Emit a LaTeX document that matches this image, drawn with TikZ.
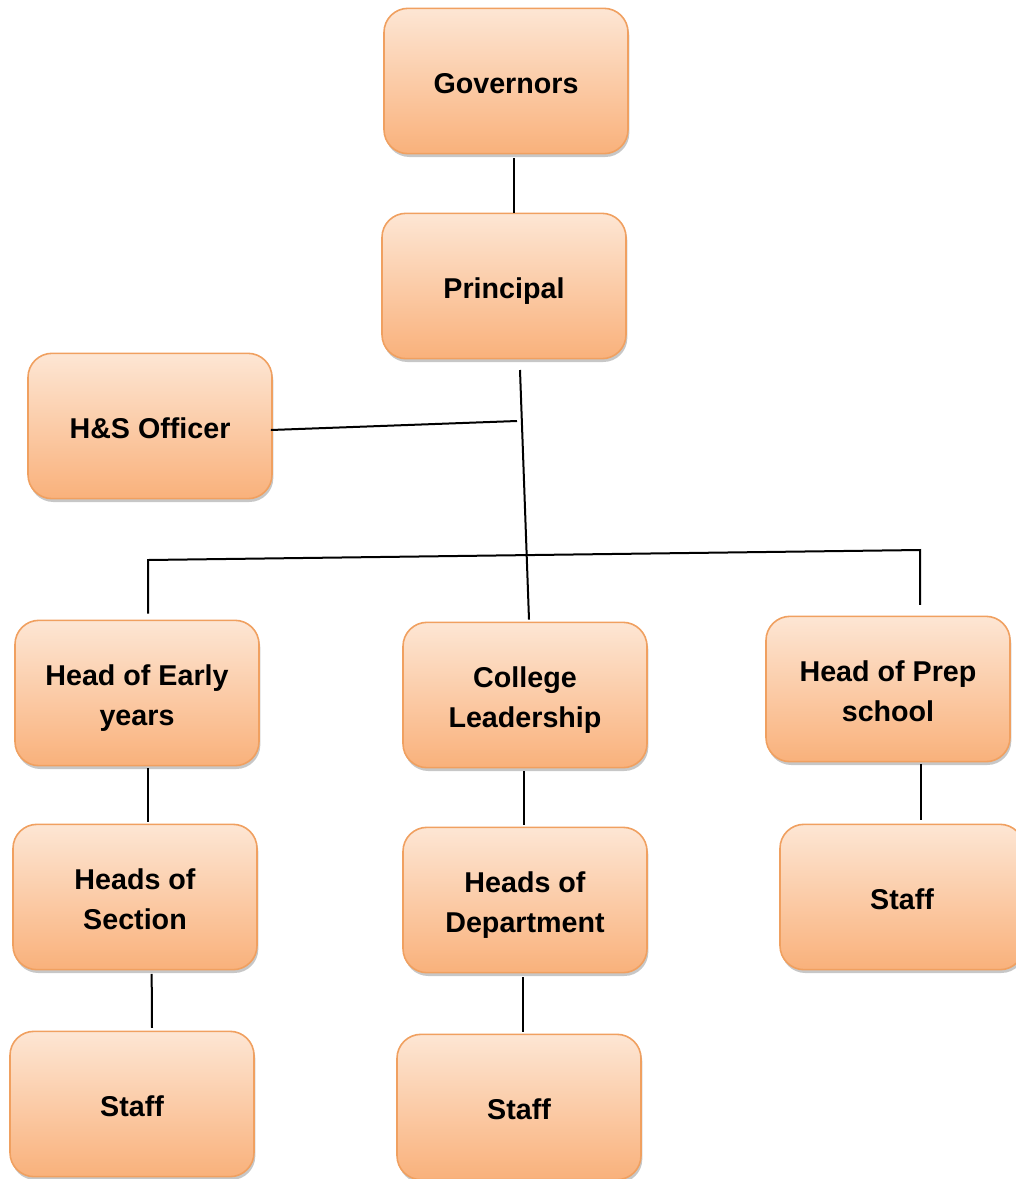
\documentclass[tikz,border=0pt]{standalone}
\usepackage{fontspec}
\setmainfont{Liberation Sans}
\usetikzlibrary{shadows}
\definecolor{boxtop}{HTML}{FDE6D4}
\definecolor{boxbot}{HTML}{F9B17B}
\definecolor{boxline}{HTML}{F0A060}
\newcommand{\boxtext}[1]{\raisebox{-3.5pt}[\height][\depth]{\begin{tabular}{@{}c@{}}#1\end{tabular}}}
\begin{document}
\begin{tikzpicture}[x=0.75pt,y=-0.75pt,
  box/.style={rectangle, rounded corners=18pt, draw=boxline, line width=1.2pt,
    top color=boxtop, bottom color=boxbot, minimum width=183pt, minimum height=109pt,
    inner sep=0pt, font=\bfseries\fontsize{21.5}{30}\selectfont,
    drop shadow={shadow xshift=1pt, shadow yshift=-2.5pt, opacity=0.22, fill=black}},
  conn/.style={draw=black, line width=1.5pt}]
\useasboundingbox (0,0) rectangle (1015,1179);
\node[box] (gov)  at (506,81)   {\boxtext{Governors}};
\node[box] (prin) at (504,286)  {\boxtext{Principal}};
\node[box] (hs)   at (150,426)  {\boxtext{H\&S Officer}};
\node[box] (ey)   at (137,693)  {\boxtext{Head of Early\\years}};
\node[box] (col)  at (525,695)  {\boxtext{College\\Leadership}};
\node[box] (prep) at (888,689)  {\boxtext{Head of Prep\\school}};
\node[box] (sec)  at (135,897)  {\boxtext{Heads of\\Section}};
\node[box] (dep)  at (525,900)  {\boxtext{Heads of\\Department}};
\node[box] (staffr) at (902,897) {\boxtext{Staff}};
\node[box] (staffl) at (132,1104) {\boxtext{Staff}};
\node[box] (staffm) at (519,1107) {\boxtext{Staff}};
\coordinate (ptop) at (520,370);
\coordinate (hsj)  at (517,421);
\coordinate (busL) at (148,560);
\coordinate (busR) at (920,550);
\draw[conn] ([xshift=6pt,yshift=-3pt]gov.south) -- ([xshift=7.5pt]prin.north);
\draw[conn] (ptop) -- ([xshift=3pt,yshift=1.5pt]col.north);
\draw[conn] ([xshift=-1.5pt,yshift=-3pt]hs.east) -- (hsj);
\draw[conn] ([yshift=4.5pt]busL |- ey.north) -- (busL) -- (busR) -- ([yshift=8pt]busR |- prep.north);
\draw[conn] ([xshift=8pt,yshift=-1.5pt]ey.south) -- ([xshift=9.5pt,yshift=1.5pt]sec.north);
\draw[conn] ([xshift=12.5pt,yshift=-2.5pt]sec.south) -- ([xshift=15pt,yshift=2pt]staffl.north);
\draw[conn] ([xshift=-0.75pt,yshift=-2pt]col.south) -- ([xshift=-0.75pt,yshift=1.5pt]dep.north);
\draw[conn] ([xshift=-1.5pt,yshift=-3pt]dep.south) -- ([xshift=3pt,yshift=1.5pt]staffm.north);
\draw[conn] ([xshift=24.75pt,yshift=-1.5pt]prep.south) -- ([xshift=14.25pt,yshift=3pt]staffr.north);
\end{tikzpicture}
\end{document}
